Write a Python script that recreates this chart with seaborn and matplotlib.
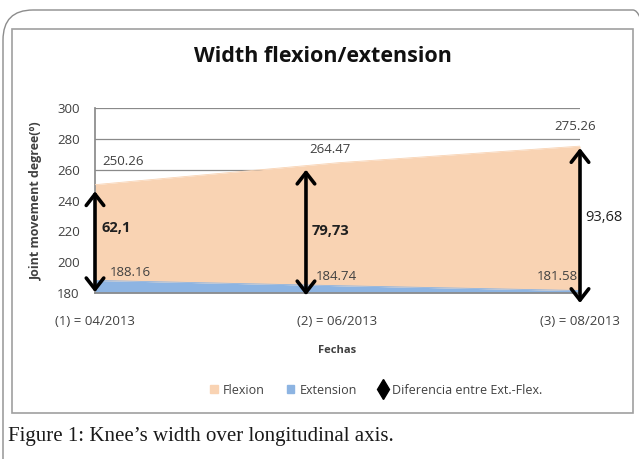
import matplotlib
matplotlib.use("Agg")
import matplotlib.pyplot as plt
import seaborn as sns
import pandas as pd
from matplotlib.patches import FancyBboxPatch, Rectangle, Patch
from matplotlib.lines import Line2D

fechas = ["(1) = 04/2013", "(2) = 06/2013", "(3) = 08/2013"]
flexion = [250.26, 264.47, 275.26]
extension = [188.16, 184.74, 181.58]
diferencia = ["62,1", "79,73", "93,68"]
diff_bold = [True, True, False]
# hand-drawn arrows in the original (x position, bottom, top)
arrow_x = [0.0, 0.87, 2.0]
arrow_lo = [180.5, 178.5, 173.5]
arrow_hi = [246.0, 260.0, 274.0]

c_flex = "#F9D3B3"
c_ext = "#8DB4E2"
gris = "#404040"

sns.set_theme(style="white")
plt.rcParams["font.family"] = ["Open Sans", "DejaVu Sans"]

df = pd.DataFrame({"x": range(len(fechas)), "Flexion": flexion, "Extension": extension})

fig = plt.figure(figsize=(6.39, 4.59), dpi=100)

# outer rounded frame and inner chart frame
fig.patches.append(FancyBboxPatch((0.03, -0.6), 6.6, 5.09, boxstyle="round,pad=0,rounding_size=0.3",
                                  transform=fig.dpi_scale_trans, fill=False, ec="#8c8c8c", lw=1.0))
fig.patches.append(Rectangle((0.12, 0.46), 6.21, 3.84, transform=fig.dpi_scale_trans,
                             fill=False, ec="#a0a0a0", lw=1.2))

ax = fig.add_axes([95 / 639, 1 - 293 / 459, 485 / 639, 185 / 459])
ax.set_xlim(0, 2)
ax.set_ylim(180, 300)
ax.set_yticks(range(180, 301, 20))
ax.yaxis.grid(True, color="#8a8a8a", lw=0.9)
ax.set_axisbelow(True)

ax.fill_between(df["x"], 180, df["Extension"], color=c_ext, lw=0, zorder=2)
ax.fill_between(df["x"], df["Extension"], df["Flexion"], color=c_flex, lw=0, zorder=2)
sns.lineplot(data=df, x="x", y="Flexion", color=c_flex, lw=0.6, ax=ax, zorder=3)
sns.lineplot(data=df, x="x", y="Extension", color=c_ext, lw=0.6, ax=ax, zorder=3)

for s in ["top", "right"]:
    ax.spines[s].set_visible(False)
ax.spines["left"].set_color("#8a8a8a")
ax.spines["bottom"].set_color("#8a8a8a")

ax.set_xticks(range(len(fechas)))
ax.set_xticklabels(fechas, fontsize=9.5, color=gris)
ax.tick_params(axis="x", pad=16, length=0)
ax.tick_params(axis="y", labelsize=9.5, labelcolor=gris, pad=11, length=0)
ax.set_xlabel("Fechas", fontsize=8, fontweight="bold", color=gris, labelpad=12)
ax.set_ylabel("Joint movement degree(º)", fontsize=9, fontweight="bold", color=gris, labelpad=10)

# value labels
flex_off = [(0.03, 265, "left"), (0.97, 273, "center"), (1.98, 288, "center")]
for (xx, yy, ha), v in zip(flex_off, flexion):
    ax.text(xx, yy, f"{v:.2f}", fontsize=9.5, color=gris, ha=ha, va="center")
ext_off = [(0.06, 193.5, "left"), (0.91, 191, "left"), (1.99, 191, "right")]
for (xx, yy, ha), v in zip(ext_off, extension):
    ax.text(xx, yy, f"{v:.2f}", fontsize=9.5, color=gris, ha=ha, va="center")

# difference arrows
for xa, lo, hi in zip(arrow_x, arrow_lo, arrow_hi):
    ax.annotate("", xy=(xa, hi), xytext=(xa, lo),
                arrowprops=dict(arrowstyle="<->,head_length=0.45,head_width=0.35", color="black",
                                lw=2.6, mutation_scale=18, shrinkA=0, shrinkB=0),
                annotation_clip=False, zorder=5)
diff_pos = [(0.025, 222), (0.895, 220), (2.02, 229)]
for (xx, yy), t, b in zip(diff_pos, diferencia, diff_bold):
    ax.text(xx, yy, t, fontsize=10.5, fontweight="bold" if b else "normal", color="#202020",
            ha="left", va="center", clip_on=False)

fig.text(0.505, 1 - 57 / 459, "Width flexion/extension", fontsize=15.5, fontweight="bold",
         ha="center", va="center", color="#111111")

handles = [Patch(color=c_flex, label="Flexion"),
           Patch(color=c_ext, label="Extension"),
           Line2D([], [], ls="none", marker="d", color="black", markersize=10,
                  label="Diferencia entre Ext.-Flex.")]
leg = fig.legend(handles=handles, loc="center", bbox_to_anchor=(376 / 639, 1 - 390 / 459),
                 ncol=3, frameon=False, fontsize=9, handlelength=0.6, handleheight=0.6,
                 handletextpad=0.4, columnspacing=1.8)
for t in leg.get_texts():
    t.set_color(gris)

fig.text(8 / 639, 1 - 436 / 459, "Figure 1: Knee\u2019s width over longitudinal axis.",
         fontsize=15, family=["Liberation Serif", "DejaVu Serif"], ha="left", va="center",
         color="#1a1a1a")

fig.savefig("out.png", dpi=100)
